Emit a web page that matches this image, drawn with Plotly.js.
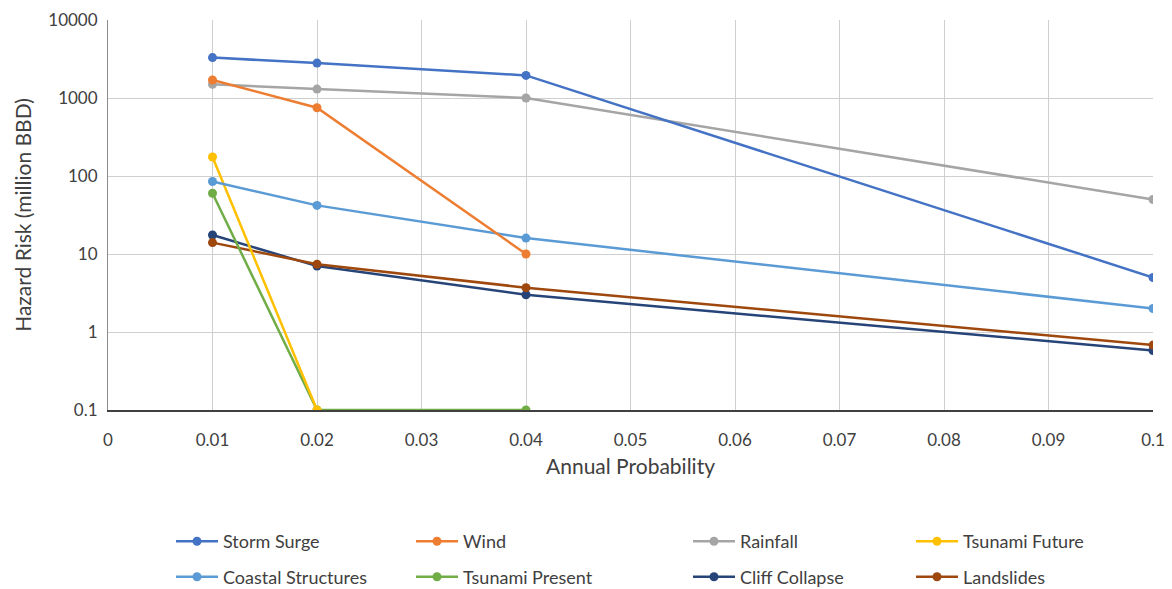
<!DOCTYPE html>
<html><head><meta charset="utf-8">
<script src="https://cdn.plot.ly/plotly-3.0.1.min.js"></script>
<style>body{margin:0;background:#fff}#chart{width:1172px;height:589px}</style>
</head><body><div id="chart"></div>
<script>
const probabilities = [0.01, 0.02, 0.04, 0.1];
const stormSurge = [3300, 2800, 1950, 5];
const wind = [1700, 750, 10];
const rainfall = [1500, 1300, 1000, 50];
const tsunamiFuture = [175, 0.1];
const coastalStructures = [85, 42, 16, 2];
const tsunamiPresent = [60, 0.1, 0.1];
const cliffCollapse = [17.5, 7, 3, 0.58];
const landslides = [14, 7.4, 3.7, 0.68];
const yTickVals = [0.1, 1, 10, 100, 1000, 10000];
const yTickText = ['0.1', '1', '10', '100', '1000', '10000'];
const xTickVals = [0, 0.01, 0.02, 0.03, 0.04, 0.05, 0.06, 0.07, 0.08, 0.09, 0.1];
const xTickText = ['0', '0.01', '0.02', '0.03', '0.04', '0.05', '0.06', '0.07', '0.08', '0.09', '0.1'];

const series = [
  {name: 'Storm Surge', y: stormSurge, color: '#4472C4', legend: 'legend', rank: 1},
  {name: 'Coastal Structures', y: coastalStructures, color: '#5B9BD5', legend: 'legend', rank: 2},
  {name: 'Wind', y: wind, color: '#ED7D31', legend: 'legend2', rank: 1},
  {name: 'Tsunami Present', y: tsunamiPresent, color: '#70AD47', legend: 'legend2', rank: 2},
  {name: 'Rainfall', y: rainfall, color: '#A5A5A5', legend: 'legend3', rank: 1},
  {name: 'Cliff Collapse', y: cliffCollapse, color: '#264478', legend: 'legend3', rank: 2},
  {name: 'Tsunami Future', y: tsunamiFuture, color: '#FFC000', legend: 'legend4', rank: 1},
  {name: 'Landslides', y: landslides, color: '#9E480E', legend: 'legend4', rank: 2}
];
const drawOrder = ['Cliff Collapse','Landslides','Tsunami Present','Tsunami Future','Coastal Structures','Rainfall','Wind','Storm Surge'];

const traces = series.map(s => ({
  type: 'scatter', mode: 'lines+markers', name: s.name,
  x: probabilities.slice(0, s.y.length), y: s.y,
  line: {color: s.color, width: 2.5},
  marker: {color: s.color, size: 9},
  legend: s.legend, legendgroup: s.name, legendrank: s.rank
}));

const font = "Lato, 'Open Sans', sans-serif";
const txt = '#404040';
const legendBase = {orientation: 'v', yanchor: 'top', y: -0.29, xanchor: 'left', tracegroupgap: 9,
  itemwidth: 42, traceorder: 'grouped',
  font: {family: font, size: 18, color: txt}, bgcolor: 'rgba(0,0,0,0)'};
const W = 1045;
const px = v => (v - 108) / W;

const layout = {
  width: 1172, height: 589,
  margin: {l: 108, r: 19, t: 20, b: 179, autoexpand: false},
  paper_bgcolor: '#fff', plot_bgcolor: '#fff',
  font: {family: font, color: txt},
  xaxis: {range: [0, 0.1], tickvals: xTickVals, ticktext: xTickText,
    showgrid: true, gridcolor: '#cfcfcf', gridwidth: 1, zeroline: false,
    showline: true, linecolor: '#404040', linewidth: 1.5, ticks: '', ticklabelstandoff: 14,
    tickfont: {family: font, size: 17, color: txt},
    title: {text: 'Annual Probability', font: {family: font, size: 21, color: txt}, standoff: 10}},
  yaxis: {type: 'log', range: [-1, 4], tickvals: yTickVals, ticktext: yTickText,
    showgrid: true, gridcolor: '#cfcfcf', gridwidth: 1, zeroline: false,
    showline: true, linecolor: '#8c8c8c', linewidth: 1, ticks: '', ticklabelstandoff: 6,
    tickfont: {family: font, size: 17, color: txt},
    title: {text: 'Hazard Risk (million BBD)', font: {family: font, size: 21, color: txt}, standoff: 10}},
  legend: Object.assign({}, legendBase, {x: px(171)}),
  legend2: Object.assign({}, legendBase, {x: px(411)}),
  legend3: Object.assign({}, legendBase, {x: px(688)}),
  legend4: Object.assign({}, legendBase, {x: px(911)}),
  showlegend: true
};

const ordered = drawOrder.map(n => traces.find(t => t.name === n));
Plotly.newPlot('chart', ordered, layout, {displayModeBar: false, staticPlot: true});
</script>
</body></html>
